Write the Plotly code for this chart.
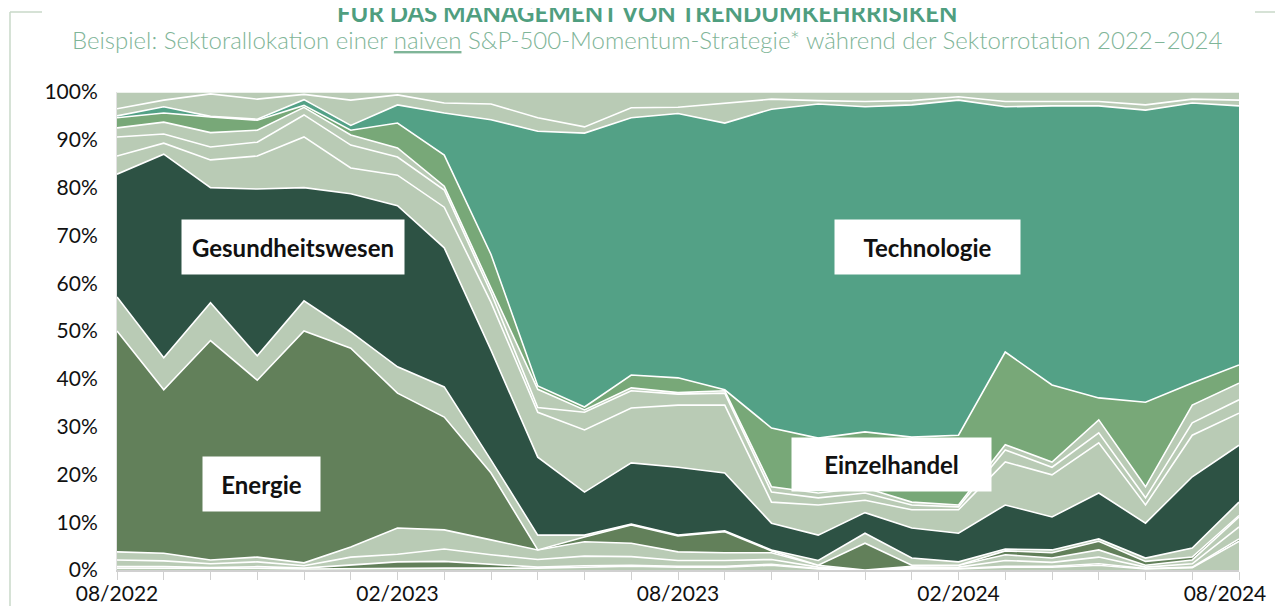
import plotly.graph_objects as go

# -----------------------
# DATEN (Anteile in %, monatlich 08/2022 - 08/2024)
# -----------------------
months = ["08/2022", "09/2022", "10/2022", "11/2022", "12/2022", "01/2023", "02/2023",
          "03/2023", "04/2023", "05/2023", "06/2023", "07/2023", "08/2023", "09/2023",
          "10/2023", "11/2023", "12/2023", "01/2024", "02/2024", "03/2024", "04/2024",
          "05/2024", "06/2024", "07/2024", "08/2024"]

y_ticks = [0, 10, 20, 30, 40, 50, 60, 70, 80, 90, 100]
y_labels = ["0%", "10%", "20%", "30%", "40%", "50%", "60%", "70%", "80%", "90%", "100%"]

versorger = [0.4, 0.4, 0.3, 0.4, 0.2, 0.3, 0.4, 0.4, 0.4, 0.4, 0.6, 0.8, 0.6, 0.6, 1.0,
             0.2, 0.0, 0.2, 0.2, 0.6, 0.6, 1.0, 0.2, 0.5, 6.0]
grundstoffe = [0.3, 0.3, 0.2, 0.3, 0.2, 0.8, 1.3, 1.4, 0.8, 0.2, 0.3, 0.2, 0.2, 0.2, 0.2,
               0.1, 0.0, 0.1, 0.1, 0.2, 0.2, 0.3, 0.1, 0.1, 0.5]
immobilien = [1.4, 1.2, 0.8, 1.0, 0.5, 1.6, 1.6, 2.6, 2.0, 1.6, 2.0, 1.8, 1.2, 1.2, 1.0,
              0.3, 0.0, 0.2, 0.3, 1.2, 0.8, 1.4, 0.3, 0.7, 2.5]
kommunikation = [1.7, 1.6, 0.8, 1.0, 0.6, 2.1, 5.5, 4.0, 3.1, 2.0, 3.0, 2.8, 1.8, 1.6, 1.4,
                 0.4, 0.0, 0.3, 0.4, 1.2, 0.9, 1.5, 0.4, 0.8, 2.1]
energie = [46.2, 34.2, 45.9, 37.0, 48.5, 41.6, 28.2, 23.6, 14.0, 0.0, 1.0, 3.8, 3.3, 4.4, 0.4,
           0.0, 5.6, 0.2, 0.0, 0.8, 1.1, 1.8, 0.8, 0.6, 0.3]
finanzen = [7.1, 6.7, 7.9, 5.1, 6.3, 3.4, 5.5, 6.3, 2.7, 3.1, 0.4, 0.2, 0.2, 0.2, 0.2,
            1.0, 2.1, 1.5, 0.7, 0.4, 0.6, 0.5, 0.7, 1.9, 2.8]
gesundheit = [25.7, 42.6, 24.1, 34.9, 23.7, 28.9, 33.7, 29.1, 23.0, 16.3, 9.0, 12.8, 14.2, 12.1, 5.6,
              5.3, 4.3, 6.3, 6.0, 9.2, 6.9, 9.6, 7.3, 14.9, 11.9]
basiskonsum = [3.8, 2.3, 5.8, 6.9, 10.6, 5.4, 6.4, 8.5, 10.0, 9.4, 13.0, 11.5, 13.0, 14.2, 4.4,
               6.3, 2.6, 3.8, 4.9, 9.0, 8.8, 10.5, 3.8, 8.7, 6.7]
industrie = [4.0, 1.9, 2.7, 2.9, 4.6, 4.8, 3.8, 3.6, 2.0, 1.0, 3.7, 3.6, 2.3, 2.5, 2.1,
             1.5, 1.5, 1.0, 0.6, 2.5, 1.6, 2.1, 1.5, 2.6, 2.8]
medien = [1.9, 2.5, 3.0, 2.5, 1.6, 2.1, 1.9, 0.8, 1.0, 3.8, 0.5, 0.6, 0.3, 0.5, 1.1,
          1.0, 1.1, 0.6, 0.4, 1.1, 1.1, 2.7, 2.3, 3.7, 3.5]
einzelhandel = [2.1, 1.9, 3.3, 2.1, 0.4, 1.0, 5.2, 6.5, 7.0, 0.7, 0.6, 2.7, 3.1, 0.2, 12.3,
                11.5, 11.7, 13.6, 14.6, 19.4, 16.1, 4.6, 17.7, 4.6, 3.8]
technologie = [0.4, 1.3, 0.1, 0.2, 1.2, 1.0, 3.8, 8.8, 28.2, 53.3, 57.3, 53.8, 55.3, 55.8, 66.7,
               69.9, 68.0, 69.5, 70.1, 51.3, 58.4, 61.1, 61.1, 58.6, 54.2]
halbleiter = [1.5, 1.4, 4.7, 4.2, 1.1, 5.3, 2.1, 2.1, 3.3, 2.8, 1.3, 2.1, 1.3, 4.2, 2.1,
              0.7, 1.1, 0.9, 0.7, 1.1, 0.9, 0.9, 1.1, 0.8, 1.2]
sonstige = [3.5, 1.7, 0.4, 1.5, 0.5, 1.7, 0.6, 2.3, 2.5, 5.4, 7.3, 3.3, 3.2, 2.3, 1.5,
            1.8, 2.0, 1.8, 1.0, 2.0, 2.0, 2.0, 2.7, 1.5, 1.7]

SAGE = "#b9cbb5"
MID = "#62805a"
DARK = "#2d5244"
GREEN = "#78a878"
TEAL = "#53a186"

series = [
    ("Versorger", versorger, SAGE),
    ("Grundstoffe", grundstoffe, MID),
    ("Immobilien", immobilien, SAGE),
    ("Kommunikation", kommunikation, SAGE),
    ("Energie", energie, MID),
    ("Finanzen", finanzen, SAGE),
    ("Gesundheitswesen", gesundheit, DARK),
    ("Basiskonsumgüter", basiskonsum, SAGE),
    ("Industrie", industrie, SAGE),
    ("Medien", medien, SAGE),
    ("Einzelhandel", einzelhandel, GREEN),
    ("Technologie", technologie, TEAL),
    ("Halbleiter", halbleiter, SAGE),
    ("Sonstige", sonstige, SAGE),
]

x = list(range(len(months)))

fig = go.Figure()
for name, vals, col in series:
    fig.add_trace(go.Scatter(
        x=x, y=vals, name=name,
        mode="lines",
        stackgroup="one",
        line=dict(color="white", width=1.6),
        fillcolor=col,
        hoverinfo="name+y"
    ))

# die Seite hat 8px Rand: Positionen in Fensterpixeln -> Figurpixeln
OFF = 8
W, H = 1283 - OFF, 606 - OFF
PL, PR, PT, PB = 117 - OFF, 1239 - OFF, 92 - OFF, 570 - OFF

def px_x(p):
    return (p - OFF - PL) / (PR - PL)

def px_y(p):
    return (PB - (p - OFF)) / (PB - PT)

# Beschriftung alle 6 Monate, letzte leicht nach innen gerückt
label_pos = [0, 6, 12, 18, 23.7]
label_txt = months[::6]

fig.update_layout(
    width=W, height=H,
    margin=dict(l=PL, r=W - PR, t=PT, b=H - PB),
    plot_bgcolor="white", paper_bgcolor="white",
    showlegend=False,
    font=dict(family="Lato, Noto Sans, sans-serif", color="#111111"),
    xaxis=dict(
        range=[0, 24], tickvals=label_pos, ticktext=label_txt,
        showgrid=False, zeroline=False,
        showline=True, linecolor="#d0d0d0", linewidth=1.5,
        ticks="", ticklabelstandoff=4,
        minor=dict(tickvals=x, ticks="outside", ticklen=8, tickcolor="#d0d0d0",
                   tickwidth=1.2, showgrid=False),
        tickfont=dict(size=21, family="Lato, sans-serif", color="#111111"),
        automargin=False,
    ),
    yaxis=dict(
        range=[0, 100], tickvals=y_ticks, ticktext=y_labels,
        showgrid=False, zeroline=False,
        showline=True, linecolor="#e2e2e2", linewidth=1,
        ticks="", ticklabelstandoff=14,
        tickfont=dict(size=21, family="Lato, sans-serif", color="#111111"),
        automargin=False,
    ),
)

# Titel + Untertitel
fig.add_annotation(
    text="<b>FÜR DAS MANAGEMENT VON TRENDUMKEHRRISIKEN</b>",
    xref="paper", yref="paper", x=px_x(647), y=px_y(12),
    xanchor="center", yanchor="middle", showarrow=False,
    font=dict(size=24, family="Lato, sans-serif", color="#4f9e7f"),
)
fig.add_annotation(
    text="Beispiel: Sektorallokation einer <u>naiven</u> S&P-500-Momentum-Strategie* während der Sektorrotation 2022–2024",
    xref="paper", yref="paper", x=px_x(647), y=px_y(39),
    xanchor="center", yanchor="middle", showarrow=False,
    font=dict(size=24, family="Lato, sans-serif", color="#7fb598", weight=300),
)

# Rahmenlinien
frame = "#c9d9c9"
fig.add_shape(type="line", xref="paper", yref="paper", x0=px_x(10), x1=px_x(10),
              y0=px_y(12), y1=px_y(606), line=dict(color=frame, width=1.5))
fig.add_shape(type="line", xref="paper", yref="paper", x0=px_x(10), x1=px_x(42),
              y0=px_y(12), y1=px_y(12), line=dict(color=frame, width=1.5))
fig.add_shape(type="line", xref="paper", yref="paper", x0=px_x(1255), x1=px_x(1283),
              y0=px_y(12), y1=px_y(12), line=dict(color=frame, width=1.5))

# Sektor-Beschriftungen
labels = [
    ("Gesundheitswesen", 293, 247, 222, 54),
    ("Technologie", 927, 247, 185, 54),
    ("Energie", 261, 484, 117, 54),
    ("Einzelhandel", 892, 464, 199, 53),
]
for txt, cx, cy, w, h in labels:
    fig.add_annotation(
        text="<b>" + txt + "</b>",
        xref="paper", yref="paper", x=px_x(cx), y=px_y(cy),
        xanchor="center", yanchor="middle", showarrow=False,
        width=w, height=h, bgcolor="white", borderpad=0,
        font=dict(size=24, family="Lato, sans-serif", color="#111111"),
    )

fig.write_html("out.html")
